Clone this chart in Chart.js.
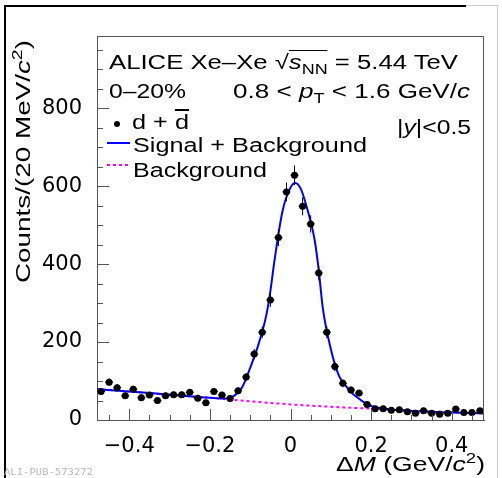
<!DOCTYPE html>
<html>
<head>
  <title>d + dbar signal, Xe-Xe 5.44 TeV</title>
  <style>
    body {
      margin: 0;
      background: #fff;
      font-family: "Liberation Sans", Arial, sans-serif;
    }
    .wrap {
      position: relative;
      width: 502px;
      height: 478px;
      overflow: hidden;
      background: #fff;
    }
    canvas {
      position: absolute;
      left: 0;
      top: 0;
    }
    .txt {
      position: absolute;
      white-space: nowrap;
      font-size: 20px;
      line-height: 20px;
      color: #000;
      transform-origin: 0 0;
    }
    .big { font-size: 21px; line-height: 21px; }
    .sub { font-size: 70%; position: relative; top: 5px; }
    .sup { font-size: 70%; position: relative; top: -8px; }
    .ov { border-top: 1.5px solid #000; }
    .bar { text-decoration: overline; }
    .edge { position: absolute; }
  </style>
</head>
<body>
<div class="wrap">
  <canvas id="massChart" width="502" height="478"></canvas>

  <!-- outer frame of the figure -->
  <div class="edge" style="left:4px; top:5px; width:2px; height:473px; background:#000;"></div>
  <div class="edge" style="left:4px; top:5px; width:462px; height:2px; background:#000;"></div>
  <div class="edge" style="left:466px; top:5px; width:31px; height:1px; background:#ccc;"></div>
  <div class="edge" style="left:497px; top:5px; width:1px; height:473px; background:#ccc;"></div>

  <div class="txt" data-w="349" style="left:109px; top:52px;">ALICE Xe–Xe √<span class="ov"><i>s</i><span class="sub">NN</span></span> = 5.44 TeV</div>
  <div class="txt" data-w="77" style="left:109px; top:81px;">0–20%</div>
  <div class="txt" data-w="237" style="left:233px; top:81px;">0.8 &lt; <i>p</i><span class="sub">T</span> &lt; 1.6 GeV/<i>c</i></div>
  <div class="edge" style="left:114px; top:121px; width:6px; height:6px; border-radius:3px; background:#000;"></div>
  <div class="txt" data-w="57" style="left:132px; top:112px;">d + <span class="bar">d</span></div>
  <div class="txt" data-w="74" style="left:397px; top:117px;">|<i>y</i>|&lt;0.5</div>
  <div class="edge" style="left:107px; top:142px; width:23px; height:2px; background:#0000ff;"></div>
  <div class="txt" data-w="234" style="left:133px; top:135px;">Signal + Background</div>
  <div class="edge" style="left:107px; top:164px; width:23px; height:2px; background:repeating-linear-gradient(90deg, #ff00ff 0 3px, transparent 3px 6px);"></div>
  <div class="txt" data-w="134" style="left:133px; top:160px;">Background</div>

  <div class="txt big" data-w="149" style="left:336px; top:453px;">Δ<i>M</i> (GeV/<i>c</i><span class="sup">2</span>)</div>
  <div class="txt big" data-w="243" data-rot="1" style="left:12px; top:283px;">Counts/(20 MeV/<i>c</i><span class="sup">2</span>)</div>
  <div class="txt" data-w="89" style="left:4px; top:468px; font-size:9px; line-height:9px; font-family:'DejaVu Sans Mono', monospace; color:#bbb;">ALI-PUB-573272</div>
</div>

<script src="https://cdn.jsdelivr.net/npm/chart.js"></script>
<script>
  // bin centres (GeV/c^2), 20 MeV bins
  const deltaM = [-0.47, -0.45, -0.43, -0.41, -0.39, -0.37, -0.35, -0.33, -0.31, -0.29, -0.27, -0.25,
                  -0.23, -0.21, -0.19, -0.17, -0.15, -0.13, -0.11, -0.09, -0.07, -0.05, -0.03, -0.01,
                   0.01,  0.03,  0.05,  0.07,  0.09,  0.11,  0.13,  0.15,  0.17,  0.19,  0.21,  0.23,
                   0.25,  0.27,  0.29,  0.31,  0.33,  0.35,  0.37,  0.39,  0.41,  0.43,  0.45,  0.47];
  const counts = [73, 97, 83, 62, 79, 57, 64, 50, 62, 65, 65, 71,
                  56, 44, 73, 64, 55, 75, 110, 169, 225, 308, 468, 585,
                  628, 548, 503, 377, 225, 137, 94, 77, 69, 40, 29, 29,
                  25, 26, 21, 17, 24, 17, 15, 17, 28, 19, 19, 24];
  const countErr = [9, 10, 9, 8, 9, 8, 8, 7, 8, 8, 8, 8,
                    7, 7, 9, 8, 7, 9, 10, 13, 15, 18, 22, 24,
                    25, 23, 22, 19, 15, 12, 10, 9, 8, 6, 5, 5,
                    5, 5, 5, 4, 5, 4, 4, 4, 5, 4, 4, 5];

  // signal + background fit
  const fitX = [-0.48, -0.40, -0.30, -0.20, -0.16, -0.14, -0.12, -0.10, -0.08, -0.06, -0.05, -0.04, -0.02,
                 0.0, 0.012, 0.025, 0.04, 0.06, 0.07, 0.08, 0.10, 0.12, 0.14, 0.16, 0.20, 0.24, 0.30, 0.40, 0.48];
  const fitY = [79, 73, 65, 57, 55, 62, 84, 134, 192, 269, 330, 407, 535,
                596, 608, 594, 547, 461, 385, 288, 182, 114, 84, 62, 36, 28, 23, 19, 17];

  // background only
  const bgX = [-0.48, -0.40, -0.30, -0.20, -0.10, 0.0, 0.10, 0.20, 0.30, 0.40, 0.48];
  const bgY = [79, 73, 65, 57, 48, 40, 34, 29, 24, 20, 17];

  const xTickVals = [-0.4, -0.2, 0, 0.2, 0.4];
  const yTickVals = [0, 200, 400, 600, 800];

  const fmt = v => (v < 0 ? '\u2212' + Math.abs(v) : String(v));

  // ROOT style ticks drawn inwards + top/right frame
  const frameTicks = {
    id: 'frameTicks',
    afterDraw(chart) {
      const { ctx, chartArea: a, scales: { x, y } } = chart;
      ctx.save();
      ctx.strokeStyle = '#555';
      ctx.lineWidth = 1;
      ctx.beginPath();
      ctx.moveTo(a.left, a.top + 0.5);
      ctx.lineTo(a.right - 0.5, a.top + 0.5);
      ctx.lineTo(a.right - 0.5, a.bottom);
      for (let v = -0.45; v <= 0.451; v += 0.05) {
        const px = Math.round(x.getPixelForValue(v)) + 0.5;
        const major = xTickVals.some(t => Math.abs(t - v) < 1e-6);
        ctx.moveTo(px, a.bottom);
        ctx.lineTo(px, a.bottom - (major ? 11 : 5));
      }
      for (let v = 50; v < y.max; v += 50) {
        const py = Math.round(y.getPixelForValue(v)) + 0.5;
        const major = yTickVals.includes(v);
        ctx.moveTo(a.left, py);
        ctx.lineTo(a.left + (major ? 12 : 6), py);
      }
      ctx.stroke();
      ctx.restore();
    }
  };

  // statistical error bars and bin width
  const errorBars = {
    id: 'errorBars',
    afterDatasetsDraw(chart) {
      const { ctx, scales: { x, y } } = chart;
      ctx.save();
      ctx.strokeStyle = '#000';
      ctx.lineWidth = 1;
      ctx.beginPath();
      deltaM.forEach((m, i) => {
        const px = x.getPixelForValue(m);
        ctx.moveTo(px, y.getPixelForValue(counts[i] - countErr[i]));
        ctx.lineTo(px, y.getPixelForValue(counts[i] + countErr[i]));
        const py = y.getPixelForValue(counts[i]);
        ctx.moveTo(x.getPixelForValue(m - 0.01), py);
        ctx.lineTo(x.getPixelForValue(m + 0.01), py);
      });
      ctx.stroke();
      ctx.restore();
    }
  };

  const tickFont = { family: 'DejaVu Sans', size: 21 };

  const ctx = document.getElementById('massChart').getContext('2d');
  const chart = new Chart(ctx, {
    type: 'scatter',
    data: {
      datasets: [
        {
          label: 'd + dbar',
          data: deltaM.map((m, i) => ({ x: m, y: counts[i] })),
          showLine: false,
          pointRadius: 3.5,
          pointBackgroundColor: '#000',
          pointBorderColor: '#000',
          pointBorderWidth: 0,
          order: 0
        },
        {
          label: 'Signal + Background',
          data: fitX.map((m, i) => ({ x: m, y: fitY[i] })),
          showLine: true,
          borderColor: '#0000ff',
          borderWidth: 2,
          pointRadius: 0,
          cubicInterpolationMode: 'monotone',
          order: 1
        },
        {
          label: 'Background',
          data: bgX.map((m, i) => ({ x: m, y: bgY[i] })),
          showLine: true,
          borderColor: '#ff00ff',
          borderWidth: 2,
          borderDash: [3, 3],
          pointRadius: 0,
          cubicInterpolationMode: 'monotone',
          order: 2
        }
      ]
    },
    options: {
      responsive: false,
      animation: false,
      devicePixelRatio: 1,
      layout: { padding: { top: 36, right: 18, left: 0, bottom: 0 } },
      plugins: {
        legend: { display: false },
        tooltip: { enabled: false }
      },
      scales: {
        x: {
          type: 'linear',
          min: -0.48,
          max: 0.48,
          afterBuildTicks: s => { s.ticks = xTickVals.map(v => ({ value: v })); },
          afterFit: s => { s.height = 58; },
          grid: { display: false },
          border: { display: true, color: '#555', width: 1 },
          ticks: { font: tickFont, color: '#000', padding: 6, maxRotation: 0, autoSkip: false, callback: fmt }
        },
        y: {
          min: 0,
          max: 985,
          afterBuildTicks: s => { s.ticks = yTickVals.map(v => ({ value: v })); },
          afterFit: s => { s.width = 97; },
          grid: { display: false },
          border: { display: true, color: '#555', width: 1 },
          ticks: { font: tickFont, color: '#000', padding: 7, autoSkip: false }
        }
      }
    },
    plugins: [frameTicks, errorBars]
  });

  // stretch overlay text to the widths measured on the reference
  document.querySelectorAll('.txt[data-w]').forEach(el => {
    const w = el.getBoundingClientRect().width;
    const k = parseFloat(el.dataset.w) / w;
    el.style.transform = (el.dataset.rot ? 'rotate(-90deg) ' : '') + 'scaleX(' + k.toFixed(3) + ')';
  });
</script>
</body>
</html>
